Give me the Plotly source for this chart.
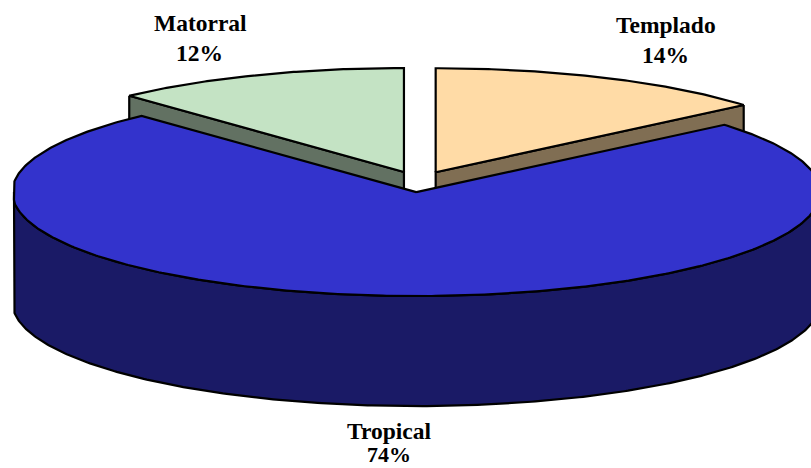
import numpy as np
import plotly.graph_objects as go

# slice values, clockwise from 12 o'clock
categories = ['Templado', 'Tropical', 'Matorral']
values = [13.8, 74.3, 11.9]
shown_pct = ['14%', '74%', '12%']
top_colors = ['#FFDBA6', '#3333CC', '#C4E3C4']
side_colors = ['#806E53', '#1A1A66', '#627162']

# label positions in pixels
label_x = [666, 389, 200]
label_y = [25, 431, 23]
pct_x = [665, 389, 199]
pct_y = [55, 454, 53]
pct_size = [23.5, 22, 23.5]

# pie geometry in pixels
CX, CY = 418.7, 181.7
RX, RY = 404, 104
DEPTH = 110
EXPLODE = 0.1
LEFT_CLIP = 14


def rim(center, t):
    return center[0] + RX * np.sin(t), center[1] - RY * np.cos(t)


def poly(x, y, color):
    return go.Scatter(x=np.clip(x, LEFT_CLIP, None), y=y, mode='lines', fill='toself',
                      fillcolor=color, line=dict(color='black', width=2.2),
                      hoverinfo='skip', showlegend=False)


edges = np.cumsum([0] + values) / sum(values) * 2 * np.pi
slices = []
for i in range(len(values)):
    start, end = edges[i], edges[i + 1]
    mid = (start + end) / 2
    center = (CX + EXPLODE * RX * np.sin(mid), CY - EXPLODE * RY * np.cos(mid))
    slices.append((center, start, end))

fig = go.Figure()

# back slices first, the big one covers their feet
for i in [0, 2]:
    center, start, end = slices[i]
    t = np.linspace(start, end, 120)
    rx, ry = rim(center, t)
    # cut face, from the outer corner in to the apex
    corner = end if i == 0 else start
    cx_, cy_ = rim(center, corner)
    fig.add_trace(poly([cx_, center[0], center[0], cx_, cx_],
                       [cy_, center[1], center[1] + DEPTH, cy_ + DEPTH, cy_], side_colors[i]))
    fig.add_trace(poly(np.r_[center[0], rx, center[0]], np.r_[center[1], ry, center[1]], top_colors[i]))

# tropical wall and top
center, start, end = slices[1]
t = np.linspace(np.pi / 2, 3 * np.pi / 2, 300)
wx, wy = rim(center, t)
fig.add_trace(poly(np.r_[wx, wx[::-1], wx[0]], np.r_[wy, wy[::-1] + DEPTH, wy[0]], side_colors[1]))
t = np.linspace(start, end, 500)
rx, ry = rim(center, t)
fig.add_trace(poly(np.r_[center[0], rx, center[0]], np.r_[center[1], ry, center[1]], top_colors[1]))

for i, name in enumerate(categories):
    fig.add_annotation(x=label_x[i], y=label_y[i], text='<b>' + name + '</b>', showarrow=False,
                       font=dict(family='Liberation Serif', size=23.5, color='black'))
    fig.add_annotation(x=pct_x[i], y=pct_y[i], text='<b>' + shown_pct[i] + '</b>', showarrow=False,
                       font=dict(family='Liberation Serif', size=pct_size[i], color='black'))

fig.update_layout(
    width=811, height=468, margin=dict(l=0, r=0, t=0, b=0),
    paper_bgcolor='white', plot_bgcolor='white', showlegend=False,
    xaxis=dict(range=[0, 811], visible=False),
    yaxis=dict(range=[468, 0], visible=False),
)
fig.write_html("out.html", config=dict(displayModeBar=False),
               post_script="document.body.style.margin='0';document.body.style.overflow='hidden';")
